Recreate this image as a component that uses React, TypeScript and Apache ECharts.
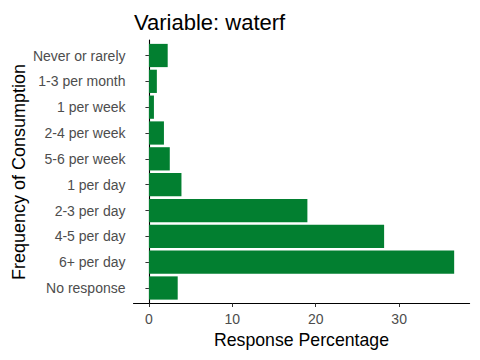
import React, { useEffect, useRef } from "react";
import * as echarts from "echarts";

const categories = [
  "Never or rarely",
  "1-3 per month",
  "1 per week",
  "2-4 per week",
  "5-6 per week",
  "1 per day",
  "2-3 per day",
  "4-5 per day",
  "6+ per day",
  "No response",
];
const values = [2.25, 0.95, 0.6, 1.8, 2.5, 3.9, 19.0, 28.2, 36.6, 3.45];
const xTicks = [0, 10, 20, 30];
const yTicks = categories.map((_, i) => i + 1);

const FONT = "'Liberation Sans', Arial, sans-serif";

export default function App() {
  const ref = useRef<HTMLDivElement>(null);
  useEffect(() => {
    if (!ref.current) return;
    const chart = echarts.init(ref.current, null, { renderer: "svg" });
    const data = values.map((v, i) => [v, i + 1]);
    chart.setOption({
      animation: false,
      backgroundColor: "#ffffff",
      textStyle: { fontFamily: FONT },
      title: {
        text: "Variable: waterf",
        left: 129,
        top: 6,
        textStyle: { fontSize: 22, fontWeight: "normal", color: "#000", fontFamily: FONT },
      },
      grid: { left: 133.5, right: 10.4, top: 40, bottom: 56.5, containLabel: false },
      xAxis: {
        type: "value",
        min: -1.85,
        max: 38.45,
        splitLine: { show: false },
        axisLine: { show: true, lineStyle: { color: "#000", width: 1.1 } },
        axisTick: { show: true, length: 3.5, customValues: xTicks, lineStyle: { color: "#333" } },
        axisLabel: {
          customValues: xTicks,
          margin: 8,
          fontSize: 14,
          color: "#4D4D4D",
          fontFamily: FONT,
        },
      },
      yAxis: {
        type: "value",
        min: 0.4,
        max: 10.6,
        inverse: true,
        splitLine: { show: false },
        axisLine: { show: true, lineStyle: { color: "#000", width: 1.1 } },
        axisTick: { show: true, length: 3.5, customValues: yTicks, lineStyle: { color: "#333" } },
        axisLabel: {
          customValues: yTicks,
          margin: 8,
          fontSize: 14,
          align: "right",
          color: "#4D4D4D",
          fontFamily: FONT,
          formatter: (v: number) => categories[Math.round(v) - 1] ?? "",
        },
      },
      graphic: [
        {
          type: "text",
          x: 301.5,
          y: 340,
          style: {
            text: "Response Percentage",
            fontSize: 17.7,
            fill: "#000",
            fontFamily: FONT,
            textAlign: "center",
            textVerticalAlign: "middle",
          },
        },
        {
          type: "text",
          x: 18.5,
          y: 172,
          rotation: Math.PI / 2,
          style: {
            text: "Frequency of Consumption",
            fontSize: 18,
            fill: "#000",
            fontFamily: FONT,
            textAlign: "center",
            textVerticalAlign: "middle",
          },
        },
      ],
      series: [
        {
          type: "custom",
          data,
          encode: { x: 0, y: 1 },
          renderItem: (params: any, api: any) => {
            const v = api.value(0);
            const c = api.value(1);
            const p0 = api.coord([0, c]);
            const p1 = api.coord([v, c]);
            const h = api.size([0, 0.9])[1];
            return {
              type: "rect",
              shape: { x: p0[0], y: p0[1] - h / 2, width: p1[0] - p0[0], height: h },
              style: { fill: "#027F30" },
            };
          },
        },
      ],
    });
    return () => chart.dispose();
  }, []);
  return <div ref={ref} style={{ width: 480, height: 360, position: "absolute", left: 0, top: 0 }} />;
}
